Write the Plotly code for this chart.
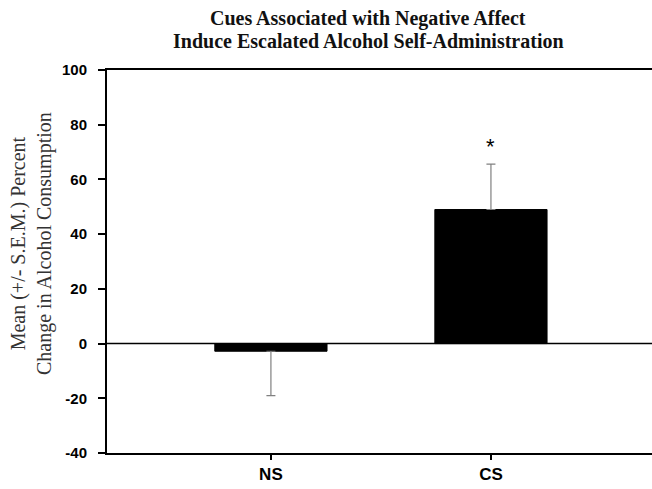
import plotly.graph_objects as go

categories = ["NS", "CS"]
means = [-2.8, 49.0]
sem_plus = [0, 16.6]
sem_minus = [16.2, 0]
y_ticks = [-40, -20, 0, 20, 40, 60, 80, 100]
y_tick_labels = ["-40", "-20", "0", "20", "40", "60", "80", "100"]
significance = ["", "*"]
sig_y = [None, 72]
title_lines = ["Cues Associated with Negative Affect",
               "Induce Escalated Alcohol Self-Administration"]

PLOT_BOTTOM = 453
PLOT_H = 383


def py(p):
    return (PLOT_BOTTOM - p) / PLOT_H


fig = go.Figure()
fig.add_trace(go.Bar(
    x=[0, 1], y=means, width=0.51,
    marker=dict(color="black", line=dict(color="black", width=1)),
    error_y=dict(type="data", symmetric=False, array=sem_plus, arrayminus=sem_minus,
                 color="#808080", thickness=1.2, width=4.5),
    showlegend=False,
))

for i, s in enumerate(significance):
    if s:
        fig.add_annotation(x=i, y=sig_y[i], text=s, showarrow=False,
                           font=dict(family="Liberation Sans, Arial", size=22, color="black"))

fig.add_hline(y=0, line=dict(color="black", width=1.5))

fig.add_annotation(
    text="Mean (+/- S.E.M.) Percent<br>Change in Alcohol Consumption",
    xref="paper", yref="paper", x=(31 - 107) / 545, y=py(244),
    xanchor="center", yanchor="middle",
    textangle=-90, showarrow=False,
    font=dict(family="Liberation Serif, Times New Roman, serif", size=20, color="#333"),
    align="center",
)

for line, cy in zip(title_lines, [19, 41]):
    fig.add_annotation(
        text="<b>" + line + "</b>", xref="paper", yref="paper",
        x=(368 - 107) / 545, y=py(cy), xanchor="center", yanchor="middle",
        showarrow=False,
        font=dict(family="Liberation Serif, Times New Roman, serif", size=20, color="#111"),
    )

fig.update_layout(
    width=652, height=489,
    margin=dict(l=107, r=0, t=70, b=36),
    plot_bgcolor="white", paper_bgcolor="white",
    xaxis=dict(
        range=[-0.745, 1.732], tickvals=[0, 1], ticktext=categories,
        showline=True, linecolor="black", linewidth=2, mirror=True,
        ticks="outside", ticklen=5, tickcolor="black", tickwidth=1.5,
        tickfont=dict(family="Liberation Sans, Arial", size=17, color="black", weight="bold"),
        showgrid=False, zeroline=False,
    ),
    yaxis=dict(
        range=[-40, 100], tickvals=y_ticks, ticktext=y_tick_labels,
        showline=True, linecolor="black", linewidth=2,
        ticks="outside", ticklen=7, tickcolor="black", tickwidth=1.5,
        ticklabelstandoff=8,
        tickfont=dict(family="Liberation Sans, Arial", size=15, color="black", weight="bold"),
        showgrid=False, zeroline=False,
    ),
)

fig.write_html("out.html", config={"displayModeBar": False},
               post_script="document.body.style.margin='0';")
